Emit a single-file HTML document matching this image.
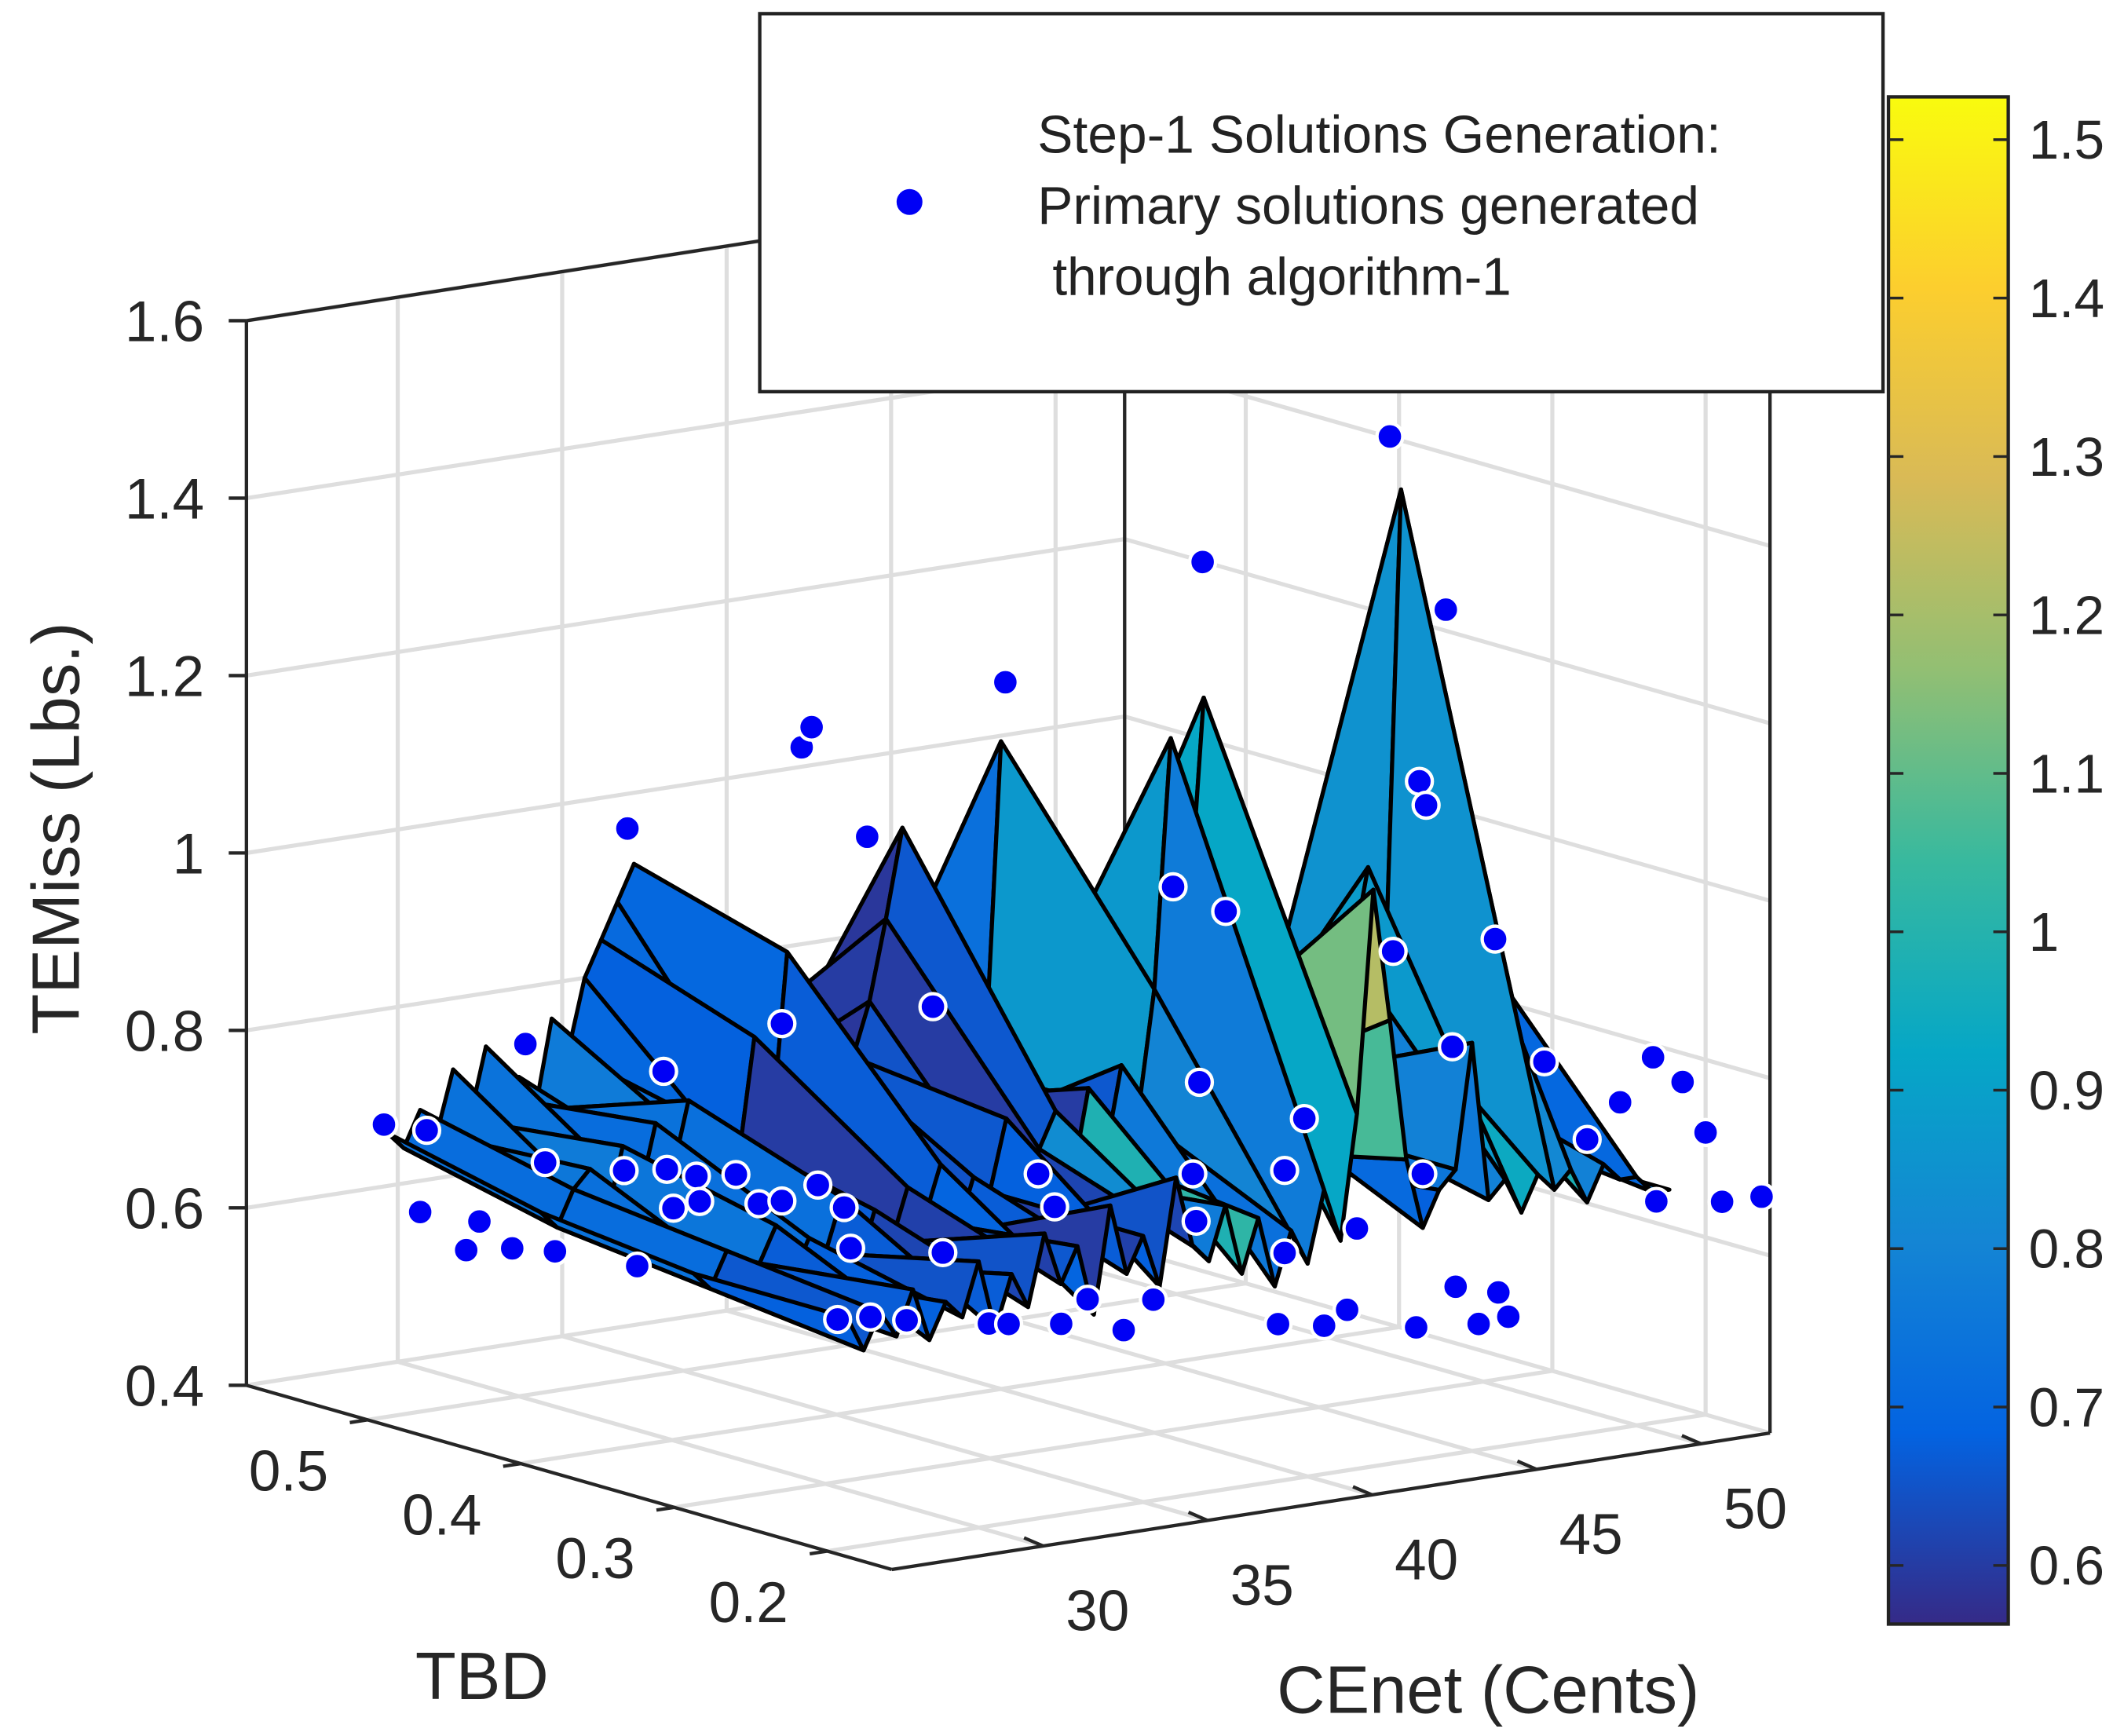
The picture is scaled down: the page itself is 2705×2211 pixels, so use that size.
<!DOCTYPE html>
<html><head><meta charset="utf-8"><style>
html,body{margin:0;padding:0;background:#fff;}
svg{display:block;font-family:"Liberation Sans",Arial,sans-serif;}
</style></head><body>
<svg id="chart" width="2705" height="2211" viewBox="0 0 1560 1272" preserveAspectRatio="none" xmlns="http://www.w3.org/2000/svg">
<defs>
<linearGradient id="parula" x1="0" y1="1" x2="0" y2="0">
<stop offset="0" stop-color="#352a87"/><stop offset="0.125" stop-color="#0363e1"/><stop offset="0.25" stop-color="#1485d4"/><stop offset="0.375" stop-color="#06a7c6"/><stop offset="0.5" stop-color="#38b99e"/><stop offset="0.625" stop-color="#92bf73"/><stop offset="0.75" stop-color="#d9ba56"/><stop offset="0.875" stop-color="#fcce2e"/><stop offset="1" stop-color="#f9fb0e"/>
</linearGradient>
</defs>
<g id="grid"></g>
<g id="box"></g>
<g id="surf"></g>
<g id="pts"></g>
<g id="labels"></g>
<g>
<rect x="558" y="10" width="825" height="277" fill="#fff" stroke="#222" stroke-width="2.5"/>
<circle cx="668" cy="148" r="9.5" fill="#0000f5"/>
<text x="762" y="112" font-size="39" fill="#222" textLength="502">Step-1 Solutions Generation:</text>
<text x="762" y="164" font-size="39" fill="#222" textLength="486">Primary solutions generated</text>
<text x="773" y="216" font-size="39" fill="#222" textLength="337">through algorithm-1</text>
</g>
<g>
<rect x="1387" y="71" width="88" height="1119" fill="url(#parula)" stroke="#222" stroke-width="2.5"/>
<g id="cbticks"></g>
</g>
</svg>
<script>
var ns="http://www.w3.org/2000/svg";
var tbdMin=0.158,tbdMax=0.579,ceMin=25.4,ceMax=52.1,zMin=0.4,zMax=1.6;
var zTicks=[0.4,0.6,0.8,1.0,1.2,1.4,1.6];
var zTickLabels=["0.4","0.6","0.8","1","1.2","1.4","1.6"];
var tbdTicks=[0.5,0.4,0.3,0.2];
var tbdTickLabels=["0.5","0.4","0.3","0.2"];
var ceTicks=[30,35,40,45,50];
var ceTickLabels=["30","35","40","45","50"];
var cbTicks=[0.6,0.7,0.8,0.9,1.0,1.1,1.2,1.3,1.4,1.5];
var cbTickLabels=["0.6","0.7","0.8","0.9","1","1.1","1.2","1.3","1.4","1.5"];
var cMin=0.563,cMax=1.527;
var surfTbd=[0.5,0.4,0.3,0.2];
var surfCe=[26,26.5,27,27.5,28,28.5,29,29.5,30,30.5,31,31.5,32,32.5,33,33.5,34,34.5,35,35.5,36,36.5,37,37.5,38,38.5,39,39.5,40,40.5,41,41.5,42,42.5,43,43.5,44,44.5,45,45.5,46,46.5,47,47.5,48,48.5,49,49.5,50,50.5,51];
var surfZ0=[0.72,0.70,0.74,0.71,0.78,0.72,0.80,0.74,0.76,0.72,0.82,0.78,0.86,0.90,0.94,0.98,0.92,0.84,0.78,0.74,0.70,0.76,0.68,0.72,0.76,0.70,0.72,0.68,0.70,0.68,0.72,0.69,0.70,0.68,0.71,0.69,0.70,0.68,0.70,0.69,0.70,0.68,0.70,0.69,0.70,0.68,0.70,0.69,0.70,0.68,0.70];
var surfZ1=[0.68,0.66,0.70,0.72,0.66,0.74,0.68,0.76,0.70,0.78,0.72,0.74,0.70,0.84,0.72,0.93,0.70,0.82,0.72,0.80,0.86,0.95,1.05,0.90,0.74,0.80,0.70,0.76,1.13,0.78,0.70,0.76,0.82,0.72,0.78,0.70,0.75,0.72,0.76,0.70,0.74,0.70,0.72,0.70,0.72,0.70,0.72,0.70,0.72,0.70,0.72];
var surfZ2=[0.66,0.64,0.68,0.64,0.66,0.70,0.64,0.68,0.66,0.72,0.64,0.70,0.66,0.72,0.68,0.74,0.66,0.72,0.70,0.78,0.66,0.74,0.78,0.70,0.80,0.72,0.82,0.76,0.90,1.18,0.95,1.22,0.85,0.78,0.70,0.74,0.68,0.72,0.78,0.72,0.90,1.00,0.85,1.42,1.10,0.80,0.75,0.70,0.88,0.68,0.66];
var surfZ3=[0.66,0.62,0.66,0.63,0.68,0.62,0.66,0.64,0.70,0.62,0.68,0.64,0.72,0.66,0.70,0.62,0.74,0.66,0.70,0.64,0.76,0.68,0.66,0.72,0.64,0.70,0.62,0.68,0.64,0.72,0.66,0.80,1.05,0.90,0.74,0.66,0.70,0.72,0.86,0.68,0.70,0.66,0.70,0.68,0.70,0.66,0.70,0.68,0.68,0.66,0.66];
var surfC0=[0.74,0.72,0.75,0.73,0.76,0.74,0.72,0.75,0.73,0.76,0.74,0.78,0.76,0.80,0.82,0.80,0.60,0.62,0.60,0.58,0.62,0.60,0.84,0.60,0.58,0.62,0.60,0.62,0.74,0.76,0.74,0.76,0.74,0.76,0.74,0.76,0.74,0.76,0.74,0.76,0.74,0.76,0.74,0.76,0.74,0.76,0.74,0.76,0.74,0.76,0.74];
var surfC1=[0.74,0.72,0.76,0.74,0.78,0.74,0.72,0.76,0.74,0.78,0.72,0.62,0.60,0.62,0.58,0.60,0.58,0.60,0.58,0.60,0.58,0.58,0.60,0.58,0.80,0.60,0.58,0.84,0.82,0.84,0.80,0.76,0.62,0.80,0.84,0.70,0.62,0.76,0.80,0.78,0.82,0.78,0.80,0.78,0.80,0.78,0.80,0.78,0.80,0.78,0.80];
var surfC2=[0.74,0.72,0.70,0.74,0.72,0.76,0.74,0.70,0.72,0.74,0.62,0.70,0.60,0.72,0.76,0.60,0.72,0.62,0.74,0.70,0.62,0.74,0.70,0.62,0.74,0.72,0.84,0.90,0.92,1.10,1.05,1.15,0.95,0.88,0.70,0.74,0.80,0.78,0.90,0.82,0.95,1.10,0.90,0.85,1.15,0.80,0.72,0.62,0.60,0.78,0.80];
var surfC3=[0.62,0.60,0.62,0.60,0.62,0.60,0.62,0.60,0.62,0.60,0.62,0.60,0.62,0.60,0.62,0.60,0.62,0.60,0.62,0.60,0.62,0.92,0.84,1.35,1.30,0.80,0.62,0.70,0.62,0.72,0.80,1.10,1.50,1.25,0.72,0.62,0.70,0.80,0.62,0.76,0.80,0.78,0.80,0.78,0.80,0.78,0.80,0.78,0.80,0.78,0.80];
var ptTbd=[0.5,0.5,0.5,0.5,0.5,0.5,0.5,0.5,0.5,0.5,0.5,0.5,0.5,0.5,0.5,0.5,0.5,0.5,0.5,0.5,0.5,0.5,0.5,
0.35,0.35,0.35,0.35,0.35,0.35,0.35,0.35,0.35,0.35,0.35,0.35,0.35,0.35,0.35,0.35,0.35,0.35,0.35,0.35,0.35,0.35,0.35,0.35,
0.2,0.2,0.2,0.2,0.2,0.2,0.2,0.2,0.2,0.2,0.2,0.2,0.2,0.2,0.2,0.2,0.2,0.2,0.2,0.2,0.2,0.2,0.2,0.2,0.2,0.2,0.2,0.2,0.2];
var ptCe=[25.9,27.2,27.0,28.4,28.8,29.8,31.1,30.2,30.8,33.3,33.6,33.2,34.4,34.5,34.7,35.4,35.5,36.6,37.3,38.0,38.0,38.6,38.9,
32.1,32.9,33.1,33.6,33.7,32.7,34.8,35.6,35.9,37.3,37.8,37.9,38.8,39.3,39.5,40.3,41.4,42.3,42.9,43.5,43.7,43.6,43.8,44.5,
39.1,39.3,39.3,39.9,40.5,41.2,41.5,43.3,42.5,43.4,43.6,42.6,43.5,44.2,44.4,44.5,45.2,45.8,45.7,46.1,47.2,48.5,49.5,50.5,51.4,52.1,50.6,52.6,53.8];
var ptZ=[0.73,0.716,0.625,0.574,0.604,0.568,0.557,0.796,0.659,1.021,0.526,0.636,0.741,0.63,0.585,0.617,0.588,0.612,0.575,0.574,0.774,1.082,1.103,
0.70,0.67,0.623,1.084,0.542,0.545,0.532,0.881,0.602,0.514,1.234,0.51,0.674,0.634,0.501,0.524,0.483,0.512,0.974,0.647,0.749,0.593,1.335,0.937,
0.577,0.656,0.749,0.804,0.567,0.581,0.671,0.549,1.558,1.164,1.136,0.977,0.721,1.353,0.859,0.588,0.542,0.574,0.973,0.545,0.826,0.731,0.767,0.812,0.779,0.718,0.649,0.637,0.636];

var A=[181,1015],B=[655,1150],C=[1300,1050],ZH=780;
function P(t,c,z){
 var a=(tbdMax-t)/(tbdMax-tbdMin), b=(c-ceMin)/(ceMax-ceMin), h=(z-zMin)/(zMax-zMin);
 return [A[0]+a*(B[0]-A[0])+b*(C[0]-B[0]), A[1]+a*(B[1]-A[1])+b*(C[1]-B[1])-h*ZH];
}
function mk(tag,attrs,parent){var e=document.createElementNS(ns,tag);for(var k in attrs)e.setAttribute(k,attrs[k]);parent.appendChild(e);return e;}
function line(p,q,col,w,g,name){var e=mk('line',{x1:p[0],y1:p[1],x2:q[0],y2:q[1],stroke:col,'stroke-width':w},g);

return e;}
var grid=document.getElementById('grid'),box=document.getElementById('box');
var GC='#dedede',GW=3;
ceTicks.forEach(function(c){line(P(tbdMax,c,zMin),P(tbdMax,c,zMax),GC,GW,grid,'back-wall-gridline');});
zTicks.forEach(function(z){line(P(tbdMax,ceMin,z),P(tbdMax,ceMax,z),GC,GW,grid,'back-wall-gridline');});
tbdTicks.forEach(function(t){line(P(t,ceMax,zMin),P(t,ceMax,zMax),GC,GW,grid,'right-wall-gridline');});
zTicks.forEach(function(z){line(P(tbdMax,ceMax,z),P(tbdMin,ceMax,z),GC,GW,grid,'right-wall-gridline');});
ceTicks.forEach(function(c){line(P(tbdMax,c,zMin),P(tbdMin,c,zMin),GC,GW,grid,'floor-gridline');});
tbdTicks.forEach(function(t){line(P(t,ceMin,zMin),P(t,ceMax,zMin),GC,GW,grid,'floor-gridline');});
var BC='#262626',BW=2.5;
line(P(tbdMax,ceMin,zMin),P(tbdMax,ceMin,zMax),BC,BW,box,'z-axis-line');
line(P(tbdMax,ceMax,zMin),P(tbdMax,ceMax,zMax),BC,BW,box,'back-edge');
line(P(tbdMin,ceMax,zMin),P(tbdMin,ceMax,zMax),BC,BW,box,'right-edge');
line(P(tbdMax,ceMin,zMax),P(tbdMax,ceMax,zMax),BC,BW,box,'top-back-edge');
line(P(tbdMax,ceMax,zMax),P(tbdMin,ceMax,zMax),BC,BW,box,'top-right-edge');
line(P(tbdMax,ceMin,zMin),P(tbdMin,ceMin,zMin),BC,BW,box,'tbd-axis-line');
line(P(tbdMin,ceMin,zMin),P(tbdMin,ceMax,zMin),BC,BW,box,'cenet-axis-line');
zTicks.forEach(function(z){var p=P(tbdMax,ceMin,z);line(p,[p[0]-13,p[1]],BC,BW,box,'z-tick');});
tbdTicks.forEach(function(t){var p=P(t,ceMin,zMin);line(p,[p[0]-13,p[1]+2],BC,BW,box,'tbd-tick');});
ceTicks.forEach(function(c){var p=P(tbdMin,c,zMin);line(p,[p[0]-14,p[1]-6],BC,BW,box,'cenet-tick');});
var cmap=[[53,42,135],[3,99,225],[20,133,212],[6,167,198],[56,185,158],[146,191,115],[217,186,86],[252,206,46],[249,251,14]];
function col(v){var f=(v-cMin)/(cMax-cMin);f=Math.max(0,Math.min(1,f))*(cmap.length-1);var i=Math.min(cmap.length-2,Math.floor(f)),r=f-i;
var c=cmap[i].map(function(x,k){return Math.round(x+(cmap[i+1][k]-x)*r);});return 'rgb('+c.join(',')+')';}
var surf=document.getElementById('surf');
var rows=[surfZ0,surfZ1,surfZ2,surfZ3];
var crows=[surfC0,surfC1,surfC2,surfC3];
var quads=[];
for(var r=0;r<rows.length-1;r++)for(var j=0;j<surfCe.length-1;j++)quads.push({r:r,j:j});
quads.sort(function(a,b){ if(a.r!==b.r)return a.r-b.r; return b.j-a.j;});
quads.forEach(function(q){
 var r=q.r,j=q.j;
 var pts=[P(surfTbd[r],surfCe[j],rows[r][j]),P(surfTbd[r],surfCe[j+1],rows[r][j+1]),P(surfTbd[r+1],surfCe[j+1],rows[r+1][j+1]),P(surfTbd[r+1],surfCe[j],rows[r+1][j])];
 var e=mk('polygon',{points:pts.map(function(p){return p[0].toFixed(1)+','+p[1].toFixed(1);}).join(' '),fill:col((crows[r][j]+crows[r+1][j])/2),stroke:'#000','stroke-width':3,'stroke-linejoin':'round'},surf);
 
 
});
var pg=document.getElementById('pts');
for(var i=0;i<ptZ.length;i++){
 var p=P(ptTbd[i],ptCe[i],ptZ[i]);
 var c=mk('circle',{cx:p[0].toFixed(1),cy:p[1].toFixed(1),r:9.5,fill:'#0000f5',stroke:'#fff','stroke-width':2.5},pg);
 
 
}
var lg=document.getElementById('labels');
function txt(s,x,y,size,anchor,name,rot){var e=mk('text',{x:x,y:y,'font-size':size,fill:'#262626','text-anchor':anchor},lg);if(rot)e.setAttribute('transform','rotate(-90 '+x+' '+y+')');e.textContent=s;

return e;}
zTicks.forEach(function(z,i){var p=P(tbdMax,ceMin,z);txt(zTickLabels[i],p[0]-31,p[1]+15,42,'end','z-tick-label');});
tbdTicks.forEach(function(t,i){var p=P(t,ceMin,zMin);txt(tbdTickLabels[i],p[0]-58,p[1]+52,42,'middle','tbd-tick-label');});
ceTicks.forEach(function(c,i){var p=P(tbdMin,c,zMin);txt(ceTickLabels[i],p[0]+40,p[1]+62,42,'middle','cenet-tick-label');});
txt('TEMiss (Lbs.)',58,607,49,'middle','z-axis-title',true);
txt('TBD',354,1245,49,'middle','tbd-axis-title');
txt('CEnet (Cents)',1093,1255,49,'middle','cenet-axis-title');
var cbg=document.getElementById('cbticks');
cbTicks.forEach(function(v,i){var y=1190-(v-cMin)/(cMax-cMin)*1119;
 line([1475,y],[1464,y],BC,2,cbg,'colorbar-tick');
 line([1387,y],[1398,y],BC,2,cbg,'colorbar-tick');
 var e=mk('text',{x:1490,y:y+14,'font-size':40,fill:'#262626'},cbg);e.textContent=cbTickLabels[i];
 
 
});
</script>
</body></html>
